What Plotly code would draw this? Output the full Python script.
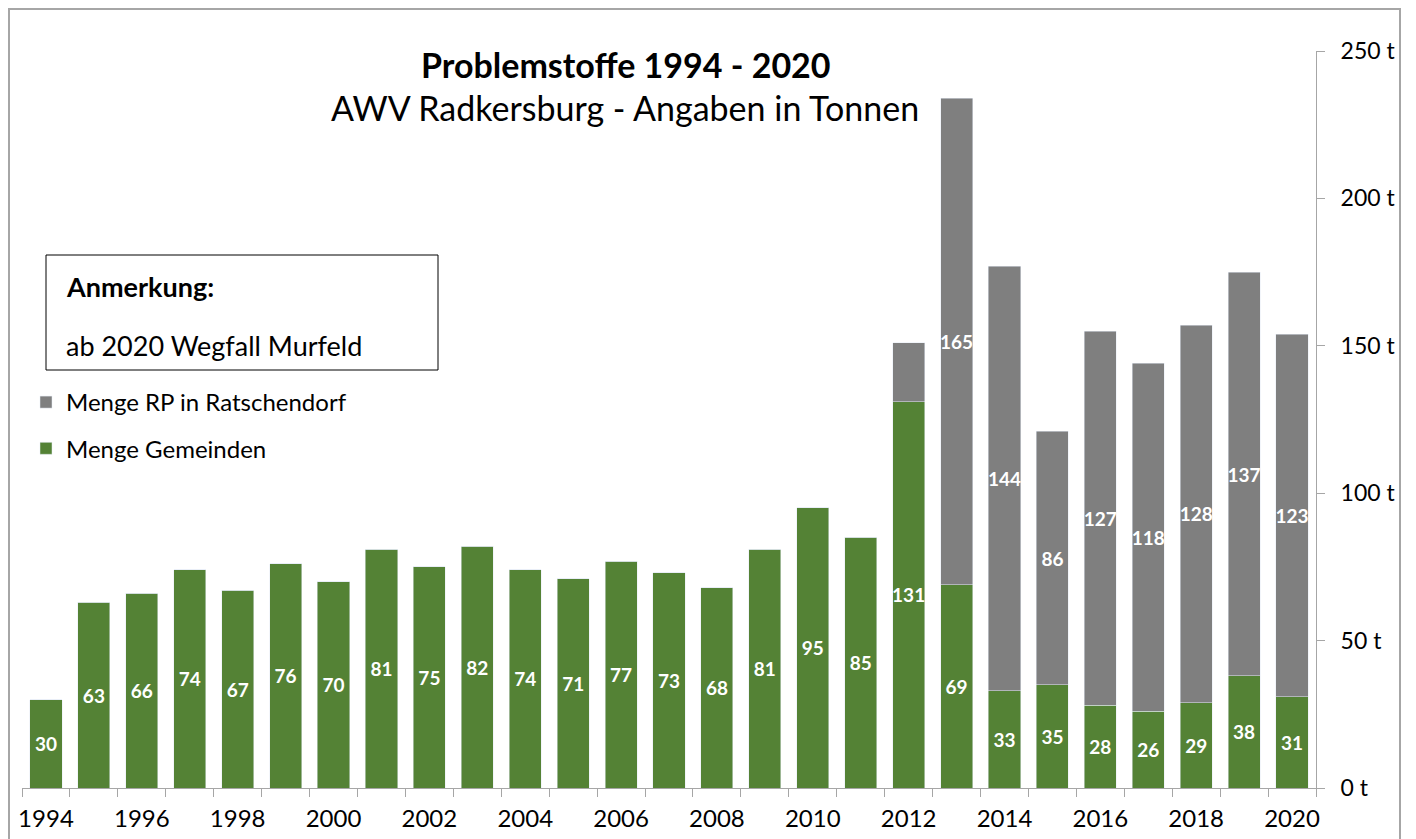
import plotly.graph_objects as go

# data
years = [str(y) for y in range(1994, 2021)]
gemeinden = [30, 63, 66, 74, 67, 76, 70, 81, 75, 82, 74, 71, 77, 73, 68, 81, 95, 85,
             131, 69, 33, 35, 28, 26, 29, 38, 31]
ratschendorf = [0, 0, 0, 0, 0, 0, 0, 0, 0, 0, 0, 0, 0, 0, 0, 0, 0, 0,
                20, 165, 144, 86, 127, 118, 128, 137, 123]
tick_labels = [y if int(y) % 2 == 0 else "" for y in years]

GREEN = '#548235'
GRAY = '#7f7f7f'
AXIS = '#a6a6a6'
FONT = 'Lato'

# the page body has an 8px margin, so the figure starts at (8, 8)
OFF = 8
W, H = 1416 - OFF, 839 - OFF
# plot area in page pixels (for placing paper-referenced items)
L, R, T, B = 22, 1316, 51, 788


def px(x):
    return (x - L) / (R - L)


def py(y):
    return (B - y) / (B - T)


label_font = dict(color='white', size=19, family=FONT, weight='bold')

fig = go.Figure()
fig.add_trace(go.Bar(
    x=years, y=gemeinden, name='Menge Gemeinden', marker_color=GREEN,
    text=[str(v) for v in gemeinden], textposition='inside', insidetextanchor='middle',
    textangle=0, constraintext='none', textfont=label_font,
    legendgroup='g', legendrank=2,
))
fig.add_trace(go.Bar(
    x=years, y=ratschendorf, name='Menge RP in Ratschendorf', marker_color=GRAY,
    text=[str(v) if v >= 30 else "" for v in ratschendorf], textposition='inside',
    insidetextanchor='middle', textangle=0, constraintext='none', textfont=label_font,
    legendgroup='r', legendrank=1,
))

fig.update_layout(
    width=W, height=H,
    margin=dict(l=L - OFF, r=W - (R - OFF), t=T - OFF, b=H - (B - OFF), autoexpand=False),
    barmode='stack', bargap=0.33,
    paper_bgcolor='white', plot_bgcolor='white',
    font=dict(family=FONT, size=20, color='black'),
    legend=dict(x=px(26), y=py(380), xanchor='left', yanchor='top',
                traceorder='grouped', tracegroupgap=12,
                font=dict(size=24, family=FONT), itemwidth=30,
                bgcolor='rgba(0,0,0,0)'),
    showlegend=True,
)

fig.update_xaxes(
    type='category', tickmode='array', tickvals=years, ticktext=tick_labels,
    tickson='boundaries', ticks='outside', ticklen=8, tickcolor=AXIS,
    showline=True, linecolor=AXIS, linewidth=1, showgrid=False,
    tickfont=dict(size=24, family=FONT), tickangle=0, ticklabelstandoff=9,
    automargin=False,
)
fig.update_yaxes(
    side='right', range=[0, 250], dtick=50, ticksuffix=' t',
    ticks='outside', ticklen=8, tickcolor=AXIS,
    showline=True, linecolor=AXIS, linewidth=1, showgrid=False, zeroline=False,
    tickfont=dict(size=23, family=FONT), ticklabelstandoff=11, automargin=False,
)

# title and subtitle
fig.add_annotation(text='<b>Problemstoffe 1994 - 2020</b>', xref='paper', yref='paper',
                   x=px(626), y=py(64), yanchor='middle', showarrow=False,
                   font=dict(size=34, family=FONT))
fig.add_annotation(text='AWV Radkersburg - Angaben in Tonnen', xref='paper', yref='paper',
                   x=px(625), y=py(107), yanchor='middle', showarrow=False,
                   font=dict(size=34, family=FONT))

# note box
fig.add_shape(type='rect', xref='paper', yref='paper',
              x0=px(46), x1=px(438), y0=py(370), y1=py(255),
              line=dict(color='black', width=1), fillcolor='white', layer='below')
fig.add_annotation(text='<b>Anmerkung:</b>', xref='paper', yref='paper',
                   x=px(64), y=py(286), xanchor='left', yanchor='middle', showarrow=False,
                   font=dict(size=27, family=FONT))
fig.add_annotation(text='ab 2020 Wegfall Murfeld', xref='paper', yref='paper',
                   x=px(64), y=py(346), xanchor='left', yanchor='middle', showarrow=False,
                   font=dict(size=27, family=FONT))

# outer chart border
fig.add_shape(type='rect', xref='paper', yref='paper',
              x0=px(9), x1=px(1400), y0=py(860), y1=py(9),
              line=dict(color=AXIS, width=2), fillcolor='rgba(0,0,0,0)')

fig.write_html("out.html")
